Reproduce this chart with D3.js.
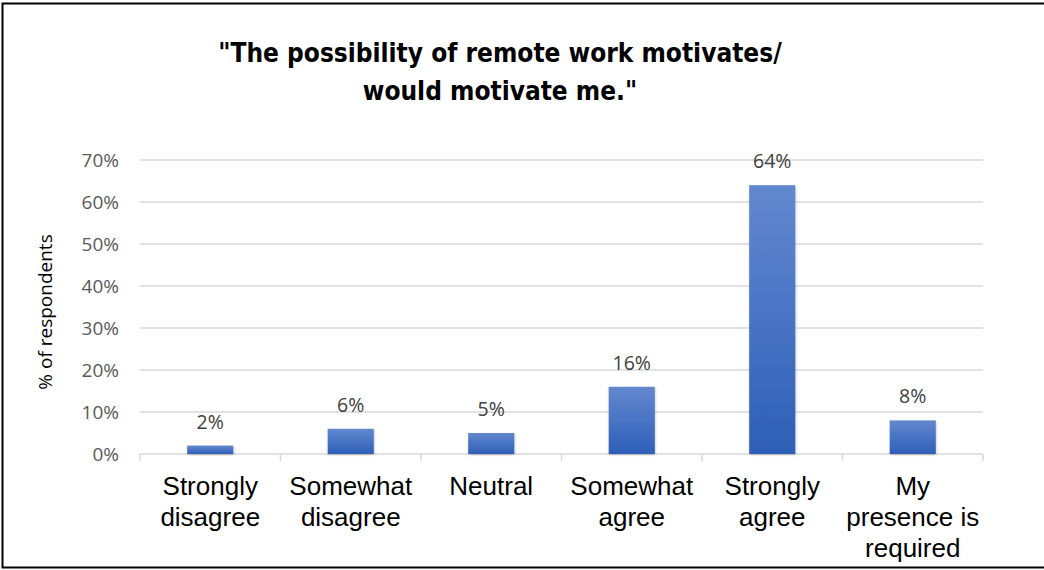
<!DOCTYPE html>
<html>
<head>
<meta charset="utf-8">
<script src="https://cdn.jsdelivr.net/npm/d3@7"></script>
<style>
  html, body { margin: 0; padding: 0; background: #fff; }
  svg { display: block; }
</style>
</head>
<body>
<svg id="chart" width="1044" height="570"></svg>
<script>
// Survey responses: "The possibility of remote work motivates / would motivate me."
const categories = [
  ["Strongly", "disagree"],
  ["Somewhat", "disagree"],
  ["Neutral"],
  ["Somewhat", "agree"],
  ["Strongly", "agree"],
  ["My", "presence is", "required"]
];
const shares = [2, 6, 5, 16, 64, 8];
const yTicks = [0, 10, 20, 30, 40, 50, 60, 70];
const titleLines = ["\"The possibility of remote work motivates/", "would motivate me.\""];
const yTitle = "% of respondents";

const svg = d3.select("#chart");
const W = 1044, H = 570;
const plot = { left: 140, right: 983, top: 160, bottom: 454 };

// Outer frame (top, left, bottom edges)
svg.append("path")
  .attr("d", `M${W},3.5 H2.5 V567.5 H${W}`)
  .attr("fill", "none")
  .attr("stroke", "#000")
  .attr("stroke-width", 2);

const x = d3.scaleBand()
  .domain(d3.range(categories.length))
  .range([plot.left, plot.right])
  .paddingInner(0.672)
  .paddingOuter(0.336);

const xBand = d3.scaleBand()
  .domain(d3.range(categories.length))
  .range([plot.left, plot.right]);

const y = d3.scaleLinear().domain([0, 70]).range([plot.bottom, plot.top]);

// Gradient fill for bars
const defs = svg.append("defs");
const grad = defs.append("linearGradient")
  .attr("id", "barFill").attr("x1", 0).attr("y1", 0).attr("x2", 0).attr("y2", 1);
grad.append("stop").attr("offset", "0%").attr("stop-color", "#6388cf");
grad.append("stop").attr("offset", "100%").attr("stop-color", "#2e5fb8");
const shadow = defs.append("filter").attr("id", "shadow")
  .attr("x", "-20%").attr("y", "-20%").attr("width", "140%").attr("height", "140%");
shadow.append("feDropShadow")
  .attr("dx", 0.5).attr("dy", 1).attr("stdDeviation", 1.2)
  .attr("flood-color", "#000").attr("flood-opacity", 0.25);

// Gridlines
svg.append("g")
  .selectAll("line")
  .data(yTicks.filter(t => t > 0))
  .join("line")
  .attr("x1", plot.left).attr("x2", plot.right)
  .attr("y1", d => y(d)).attr("y2", d => y(d))
  .attr("stroke", "#d9d9d9").attr("stroke-width", 1.5);

// Y axis labels
const yAxis = d3.axisLeft(y).tickValues(yTicks).tickFormat(d => d + "%").tickSize(0).tickPadding(0);
svg.append("g")
  .attr("transform", `translate(${plot.left - 21},0)`)
  .call(yAxis)
  .call(g => g.select(".domain").remove())
  .call(g => g.selectAll("text")
    .attr("font-family", "'Open Sans', 'Noto Sans', sans-serif")
    .attr("font-size", 19)
    .attr("fill", "#595959"));

// Y axis title
svg.append("text")
  .attr("transform", `translate(52,${(plot.top + plot.bottom) / 2 + 5}) rotate(-90)`)
  .attr("text-anchor", "middle")
  .attr("font-family", "'Open Sans', 'Noto Sans', sans-serif")
  .attr("font-size", 19)
  .attr("fill", "#000")
  .text(yTitle);

// X axis baseline and ticks
const xAxis = d3.axisBottom(xBand).tickSize(0).tickFormat("");
svg.append("g")
  .attr("transform", `translate(0,${plot.bottom})`)
  .call(xAxis)
  .call(g => g.select(".domain").attr("stroke", "#d9d9d9").attr("stroke-width", 1.5).attr("d", `M${plot.left},0H${plot.right}`));
svg.append("g")
  .selectAll("line")
  .data(d3.range(categories.length + 1))
  .join("line")
  .attr("x1", i => i < categories.length ? xBand(i) : plot.right)
  .attr("x2", i => i < categories.length ? xBand(i) : plot.right)
  .attr("y1", plot.bottom).attr("y2", plot.bottom + 7)
  .attr("stroke", "#d9d9d9").attr("stroke-width", 1.5);

// Bars
svg.append("g")
  .selectAll("rect")
  .data(shares)
  .join("rect")
  .attr("x", (d, i) => x(i))
  .attr("y", d => y(d))
  .attr("width", x.bandwidth())
  .attr("height", d => y(0) - y(d))
  .attr("fill", "url(#barFill)")
  .attr("filter", "url(#shadow)");

// Data labels
svg.append("g")
  .selectAll("text")
  .data(shares)
  .join("text")
  .attr("x", (d, i) => x(i) + x.bandwidth() / 2)
  .attr("y", d => y(d) - 17)
  .attr("text-anchor", "middle")
  .attr("font-family", "'Open Sans', 'Noto Sans', sans-serif")
  .attr("font-size", 19.5)
  .attr("fill", "#404040")
  .text(d => d + "%");

// Category labels
const catG = svg.append("g")
  .selectAll("text")
  .data(categories)
  .join("text")
  .attr("x", (d, i) => xBand(i) + xBand.bandwidth() / 2)
  .attr("y", 495)
  .attr("text-anchor", "middle")
  .attr("font-family", "'Liberation Sans', Arial, sans-serif")
  .attr("font-size", 26)
  .attr("fill", "#000");
catG.selectAll("tspan")
  .data(d => d)
  .join("tspan")
  .attr("x", function() { return d3.select(this.parentNode).attr("x"); })
  .attr("dy", (d, j) => j === 0 ? 0 : 31)
  .text(d => d);

// Title
svg.append("text")
  .attr("text-anchor", "middle")
  .attr("font-family", "'Liberation Sans Narrow', 'DejaVu Sans Condensed', sans-serif")
  .attr("font-weight", "bold")
  .attr("font-size", 26)
  .attr("fill", "#000")
  .selectAll("tspan")
  .data(titleLines)
  .join("tspan")
  .attr("x", 500)
  .attr("y", (d, i) => 62 + i * 38)
  .text(d => d);
</script>
</body>
</html>
